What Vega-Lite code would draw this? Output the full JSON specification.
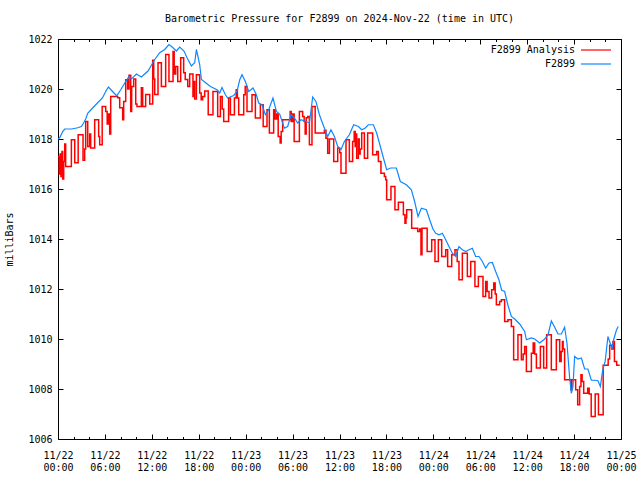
{
  "$schema": "https://vega.github.io/schema/vega-lite/v6.json",
  "width": 563,
  "height": 400,
  "autosize": {"type": "none"},
  "padding": {"left": 58, "top": 39, "right": 19, "bottom": 41},
  "title": {"text": "Barometric Pressure for F2899 on 2024-Nov-22 (time in UTC)", "fontSize": 10, "fontWeight": "normal", "font": "DejaVu Sans Mono", "anchor": "middle", "offset": 10, "color": "black"},
  "datasets": {
    "analysis": [
      {"hour":0.00,"mb":1017.3},{"hour":0.15,"mb":1016.6},{"hour":0.28,"mb":1017.4},{"hour":0.38,"mb":1016.5},{"hour":0.51,"mb":1017.5},{"hour":0.60,"mb":1016.4},{"hour":0.73,"mb":1017.1},{"hour":0.86,"mb":1017.8},{"hour":0.98,"mb":1016.9},{"hour":1.71,"mb":1017.97},{"hour":2.14,"mb":1017.05},{"hour":2.58,"mb":1018.17},{"hour":3.20,"mb":1017.15},{"hour":3.41,"mb":1017.6},{"hour":3.54,"mb":1018.7},{"hour":3.80,"mb":1017.7},{"hour":4.05,"mb":1018.2},{"hour":4.18,"mb":1017.64},{"hour":4.69,"mb":1018.77},{"hour":5.20,"mb":1018.1},{"hour":5.33,"mb":1017.77},{"hour":5.65,"mb":1019.3},{"hour":6.10,"mb":1019.1},{"hour":6.29,"mb":1018.6},{"hour":6.48,"mb":1019.0},{"hour":6.61,"mb":1018.2},{"hour":6.74,"mb":1019.7},{"hour":7.63,"mb":1019.65},{"hour":7.89,"mb":1019.25},{"hour":8.27,"mb":1018.77},{"hour":8.40,"mb":1019.5},{"hour":8.66,"mb":1020.37},{"hour":8.91,"mb":1020.0},{"hour":9.08,"mb":1020.55},{"hour":9.30,"mb":1019.1},{"hour":9.42,"mb":1020.1},{"hour":9.68,"mb":1020.4},{"hour":9.94,"mb":1019.4},{"hour":10.10,"mb":1019.3},{"hour":10.66,"mb":1020.05},{"hour":10.83,"mb":1019.3},{"hour":11.21,"mb":1019.78},{"hour":11.73,"mb":1019.4},{"hour":12.11,"mb":1021.15},{"hour":12.24,"mb":1020.4},{"hour":12.37,"mb":1019.78},{"hour":12.79,"mb":1021.05},{"hour":13.22,"mb":1020.1},{"hour":13.77,"mb":1021.38},{"hour":14.19,"mb":1020.3},{"hour":14.71,"mb":1021.5},{"hour":14.86,"mb":1020.6},{"hour":15.05,"mb":1020.9},{"hour":15.31,"mb":1020.3},{"hour":15.69,"mb":1021.25},{"hour":16.07,"mb":1020.65},{"hour":16.27,"mb":1020.38},{"hour":16.59,"mb":1020.1},{"hour":16.84,"mb":1020.6},{"hour":17.26,"mb":1019.7},{"hour":17.35,"mb":1020.3},{"hour":17.48,"mb":1019.6},{"hour":17.70,"mb":1020.57},{"hour":18.12,"mb":1019.84},{"hour":18.31,"mb":1019.57},{"hour":18.50,"mb":1019.7},{"hour":18.76,"mb":1019.92},{"hour":19.21,"mb":1018.97},{"hour":19.82,"mb":1019.9},{"hour":20.42,"mb":1018.9},{"hour":20.77,"mb":1019.7},{"hour":21.00,"mb":1019.2},{"hour":21.19,"mb":1018.7},{"hour":21.82,"mb":1019.64},{"hour":22.05,"mb":1018.97},{"hour":22.56,"mb":1019.64},{"hour":22.79,"mb":1019.97},{"hour":22.94,"mb":1019.64},{"hour":23.11,"mb":1018.97},{"hour":23.75,"mb":1019.77},{"hour":23.94,"mb":1020.1},{"hour":24.17,"mb":1019.1},{"hour":24.81,"mb":1019.77},{"hour":25.24,"mb":1018.84},{"hour":25.88,"mb":1019.37},{"hour":26.24,"mb":1018.5},{"hour":26.73,"mb":1019.17},{"hour":27.03,"mb":1018.24},{"hour":27.58,"mb":1019.17},{"hour":27.77,"mb":1018.8},{"hour":27.97,"mb":1019.0},{"hour":28.16,"mb":1018.1},{"hour":28.41,"mb":1017.84},{"hour":28.54,"mb":1018.3},{"hour":28.73,"mb":1018.77},{"hour":29.69,"mb":1019.1},{"hour":29.82,"mb":1018.7},{"hour":30.01,"mb":1019.0},{"hour":30.20,"mb":1017.9},{"hour":30.87,"mb":1019.1},{"hour":31.29,"mb":1018.9},{"hour":31.48,"mb":1018.7},{"hour":31.61,"mb":1018.2},{"hour":31.74,"mb":1018.85},{"hour":31.94,"mb":1018.9},{"hour":32.15,"mb":1017.77},{"hour":32.48,"mb":1019.3},{"hour":32.89,"mb":1018.24},{"hour":34.07,"mb":1018.35},{"hour":34.27,"mb":1018.03},{"hour":34.49,"mb":1017.43},{"hour":34.71,"mb":1018.0},{"hour":35.26,"mb":1017.1},{"hour":35.77,"mb":1017.64},{"hour":36.03,"mb":1017.45},{"hour":36.19,"mb":1016.63},{"hour":36.83,"mb":1017.97},{"hour":37.26,"mb":1017.1},{"hour":37.68,"mb":1017.9},{"hour":37.88,"mb":1018.3},{"hour":38.01,"mb":1017.7},{"hour":38.13,"mb":1018.2},{"hour":38.20,"mb":1017.23},{"hour":38.41,"mb":1018.0},{"hour":38.52,"mb":1017.4},{"hour":38.64,"mb":1017.6},{"hour":38.84,"mb":1018.24},{"hour":39.18,"mb":1017.23},{"hour":39.60,"mb":1018.24},{"hour":40.24,"mb":1017.37},{"hour":40.75,"mb":1017.5},{"hour":40.97,"mb":1017.1},{"hour":41.30,"mb":1016.63},{"hour":41.74,"mb":1016.5},{"hour":41.91,"mb":1016.37},{"hour":42.03,"mb":1015.57},{"hour":42.58,"mb":1016.1},{"hour":43.09,"mb":1015.17},{"hour":43.53,"mb":1015.47},{"hour":44.17,"mb":1014.97},{"hour":44.37,"mb":1014.63},{"hour":44.50,"mb":1014.85},{"hour":44.59,"mb":1015.17},{"hour":45.23,"mb":1014.43},{"hour":46.00,"mb":1014.3},{"hour":46.25,"mb":1014.4},{"hour":46.42,"mb":1013.37},{"hour":46.55,"mb":1014.43},{"hour":47.21,"mb":1013.5},{"hour":47.79,"mb":1013.97},{"hour":48.21,"mb":1013.1},{"hour":48.64,"mb":1013.97},{"hour":49.07,"mb":1013.3},{"hour":49.58,"mb":1013.57},{"hour":49.83,"mb":1012.9},{"hour":50.35,"mb":1013.37},{"hour":50.77,"mb":1013.57},{"hour":51.05,"mb":1013.1},{"hour":51.28,"mb":1012.37},{"hour":51.71,"mb":1013.43},{"hour":52.35,"mb":1012.5},{"hour":52.78,"mb":1013.1},{"hour":53.32,"mb":1012.1},{"hour":53.76,"mb":1012.5},{"hour":54.35,"mb":1011.7},{"hour":54.69,"mb":1012.3},{"hour":54.88,"mb":1011.9},{"hour":55.12,"mb":1011.64},{"hour":55.46,"mb":1011.97},{"hour":55.72,"mb":1012.24},{"hour":55.91,"mb":1011.8},{"hour":56.06,"mb":1011.37},{"hour":56.48,"mb":1011.5},{"hour":56.70,"mb":1011.57},{"hour":57.12,"mb":1010.7},{"hour":57.54,"mb":1010.77},{"hour":57.98,"mb":1010.5},{"hour":58.27,"mb":1009.17},{"hour":58.82,"mb":1010.17},{"hour":59.26,"mb":1009.17},{"hour":59.49,"mb":1009.4},{"hour":59.68,"mb":1009.7},{"hour":59.90,"mb":1008.7},{"hour":60.54,"mb":1009.43},{"hour":60.77,"mb":1009.84},{"hour":60.96,"mb":1009.4},{"hour":61.18,"mb":1008.84},{"hour":61.69,"mb":1009.7},{"hour":62.11,"mb":1008.84},{"hour":62.49,"mb":1010.17},{"hour":63.09,"mb":1008.77},{"hour":63.73,"mb":1009.97},{"hour":64.16,"mb":1009.1},{"hour":64.35,"mb":1009.5},{"hour":64.51,"mb":1009.9},{"hour":64.60,"mb":1009.6},{"hour":64.79,"mb":1008.37},{"hour":65.60,"mb":1007.97},{"hour":65.73,"mb":1008.37},{"hour":66.20,"mb":1007.97},{"hour":66.46,"mb":1007.37},{"hour":66.71,"mb":1008.1},{"hour":66.88,"mb":1008.57},{"hour":67.03,"mb":1008.3},{"hour":67.23,"mb":1007.83},{"hour":67.74,"mb":1008.03},{"hour":67.93,"mb":1007.8},{"hour":68.19,"mb":1006.9},{"hour":68.70,"mb":1007.8},{"hour":69.12,"mb":1006.97},{"hour":69.72,"mb":1008.95},{"hour":70.36,"mb":1009.2},{"hour":70.55,"mb":1009.75},{"hour":70.81,"mb":1009.6},{"hour":70.97,"mb":1009.9},{"hour":71.16,"mb":1009.1},{"hour":71.45,"mb":1008.95},{"hour":71.84,"mb":1008.95}
    ],
    "observed": [
      {"hour":0.00,"mb":1018.0},{"hour":0.22,"mb":1018.05},{"hour":0.60,"mb":1018.3},{"hour":0.86,"mb":1018.4},{"hour":1.75,"mb":1018.4},{"hour":2.52,"mb":1018.45},{"hour":2.99,"mb":1018.5},{"hour":3.29,"mb":1018.65},{"hour":3.54,"mb":1018.8},{"hour":3.80,"mb":1019.03},{"hour":4.40,"mb":1019.23},{"hour":5.04,"mb":1019.44},{"hour":5.68,"mb":1019.64},{"hour":6.10,"mb":1019.9},{"hour":6.45,"mb":1020.08},{"hour":7.16,"mb":1019.84},{"hour":7.51,"mb":1019.73},{"hour":8.02,"mb":1019.97},{"hour":8.66,"mb":1020.3},{"hour":9.08,"mb":1020.5},{"hour":9.42,"mb":1020.41},{"hour":10.03,"mb":1020.6},{"hour":10.66,"mb":1020.48},{"hour":11.51,"mb":1020.72},{"hour":12.37,"mb":1021.18},{"hour":13.01,"mb":1021.45},{"hour":13.64,"mb":1021.58},{"hour":14.19,"mb":1021.78},{"hour":14.71,"mb":1021.65},{"hour":15.14,"mb":1021.52},{"hour":15.56,"mb":1021.68},{"hour":16.11,"mb":1021.52},{"hour":16.50,"mb":1021.25},{"hour":17.06,"mb":1020.92},{"hour":17.48,"mb":1021.05},{"hour":17.70,"mb":1021.58},{"hour":18.12,"mb":1020.98},{"hour":18.34,"mb":1020.38},{"hour":18.89,"mb":1020.25},{"hour":19.49,"mb":1020.1},{"hour":20.33,"mb":1019.97},{"hour":20.68,"mb":1019.84},{"hour":20.97,"mb":1020.06},{"hour":21.41,"mb":1019.77},{"hour":21.70,"mb":1019.64},{"hour":22.47,"mb":1019.74},{"hour":22.89,"mb":1019.9},{"hour":23.24,"mb":1020.37},{"hour":23.53,"mb":1020.57},{"hour":23.96,"mb":1020.3},{"hour":24.39,"mb":1019.9},{"hour":24.94,"mb":1020.04},{"hour":25.37,"mb":1019.77},{"hour":25.66,"mb":1019.44},{"hour":26.09,"mb":1019.37},{"hour":26.52,"mb":1018.97},{"hour":26.94,"mb":1019.17},{"hour":27.49,"mb":1019.64},{"hour":27.93,"mb":1019.1},{"hour":28.35,"mb":1019.0},{"hour":28.95,"mb":1018.43},{"hour":29.37,"mb":1018.5},{"hour":29.80,"mb":1018.97},{"hour":30.23,"mb":1018.84},{"hour":30.65,"mb":1018.64},{"hour":31.07,"mb":1018.77},{"hour":31.71,"mb":1018.7},{"hour":32.15,"mb":1018.64},{"hour":32.57,"mb":1019.68},{"hour":32.99,"mb":1019.5},{"hour":33.43,"mb":1018.97},{"hour":34.07,"mb":1018.43},{"hour":34.49,"mb":1018.1},{"hour":34.91,"mb":1018.37},{"hour":35.35,"mb":1018.1},{"hour":35.77,"mb":1017.7},{"hour":36.19,"mb":1017.57},{"hour":36.62,"mb":1017.9},{"hour":37.26,"mb":1018.17},{"hour":37.81,"mb":1018.57},{"hour":38.41,"mb":1018.5},{"hour":38.84,"mb":1018.37},{"hour":39.26,"mb":1018.43},{"hour":39.69,"mb":1018.57},{"hour":40.33,"mb":1018.57},{"hour":40.75,"mb":1018.24},{"hour":41.18,"mb":1017.75},{"hour":41.61,"mb":1017.25},{"hour":42.03,"mb":1016.77},{"hour":42.55,"mb":1016.84},{"hour":43.27,"mb":1016.84},{"hour":43.78,"mb":1016.3},{"hour":44.55,"mb":1016.17},{"hour":45.19,"mb":1015.97},{"hour":45.61,"mb":1015.5},{"hour":46.04,"mb":1014.9},{"hour":46.47,"mb":1015.23},{"hour":47.11,"mb":1015.17},{"hour":47.53,"mb":1014.77},{"hour":47.95,"mb":1014.4},{"hour":48.30,"mb":1014.23},{"hour":48.72,"mb":1014.17},{"hour":49.16,"mb":1014.23},{"hour":49.58,"mb":1013.97},{"hour":50.00,"mb":1013.7},{"hour":50.43,"mb":1013.43},{"hour":50.86,"mb":1013.3},{"hour":51.28,"mb":1013.7},{"hour":51.71,"mb":1013.57},{"hour":52.14,"mb":1013.5},{"hour":52.56,"mb":1013.57},{"hour":52.99,"mb":1013.63},{"hour":53.41,"mb":1013.3},{"hour":53.84,"mb":1013.3},{"hour":54.27,"mb":1013.1},{"hour":54.69,"mb":1012.84},{"hour":55.12,"mb":1013.04},{"hour":55.55,"mb":1013.06},{"hour":55.97,"mb":1012.7},{"hour":56.39,"mb":1012.37},{"hour":56.74,"mb":1011.95},{"hour":57.12,"mb":1011.9},{"hour":57.54,"mb":1011.35},{"hour":57.98,"mb":1010.9},{"hour":58.40,"mb":1010.8},{"hour":59.04,"mb":1010.6},{"hour":59.68,"mb":1010.3},{"hour":59.90,"mb":1009.97},{"hour":60.54,"mb":1010.04},{"hour":60.96,"mb":1010.0},{"hour":61.60,"mb":1009.84},{"hour":62.24,"mb":1010.0},{"hour":62.66,"mb":1010.15},{"hour":63.09,"mb":1010.72},{"hour":63.52,"mb":1010.47},{"hour":63.94,"mb":1010.2},{"hour":64.37,"mb":1010.2},{"hour":64.79,"mb":1010.47},{"hour":65.09,"mb":1009.84},{"hour":65.43,"mb":1008.45},{"hour":65.65,"mb":1007.83},{"hour":65.86,"mb":1008.1},{"hour":66.07,"mb":1009.3},{"hour":66.50,"mb":1009.2},{"hour":66.93,"mb":1009.24},{"hour":67.35,"mb":1008.8},{"hour":67.77,"mb":1008.8},{"hour":68.21,"mb":1008.35},{"hour":68.63,"mb":1008.35},{"hour":69.05,"mb":1008.33},{"hour":69.36,"mb":1008.1},{"hour":69.65,"mb":1008.75},{"hour":69.97,"mb":1009.1},{"hour":70.33,"mb":1010.1},{"hour":70.61,"mb":1009.84},{"hour":70.84,"mb":1009.6},{"hour":71.06,"mb":1009.97},{"hour":71.41,"mb":1010.35},{"hour":71.64,"mb":1010.5}
    ]
  },
  "layer": [
    {
      "data": {"name": "analysis"},
      "mark": {"type": "line", "interpolate": "step-after", "strokeWidth": 1.5},
      "encoding": {
        "x": {"field": "hour", "type": "quantitative",
          "scale": {"domain": [0, 72], "nice": false, "zero": false},
          "axis": {"orient": "bottom", "title": null, "values": [0,2,4,6,8,10,12,14,16,18,20,22,24,26,28,30,32,34,36,38,40,42,44,46,48,50,52,54,56,58,60,62,64,66,68,70,72],
            "tickSize": {"condition": {"test": "datum.value % 6 === 0", "value": -5}, "value": -2.5},
            "labelExpr": "datum.value % 6 === 0 ? ['11/' + (22 + floor(datum.value / 24)), (datum.value % 24 < 10 ? '0' : '') + (datum.value % 24) + ':00'] : ''",
            "labelPadding": 16, "labelLineHeight": 12, "labelFlush": false, "labelOverlap": false, "labelBound": false}},
        "y": {"field": "mb", "type": "quantitative",
          "scale": {"domain": [1006, 1022], "nice": false, "zero": false},
          "axis": {"orient": "left", "title": "milliBars", "values": [1006,1008,1010,1012,1014,1016,1018,1020,1022],
            "tickSize": -5, "labelPadding": 11, "labelFlush": false, "labelOverlap": false, "format": "d", "titlePadding": 13}},
        "color": {"datum": "F2899 Analysis", "type": "nominal",
          "scale": {"domain": ["F2899 Analysis", "F2899"], "range": ["#ff0000", "#0f87ff"]},
          "legend": {"title": null, "orient": "none", "legendX": 531, "legendY": 4, "symbolType": "M-2.5,0H2.5", "symbolSize": 144, "symbolStrokeWidth": 1.2, "labelAlign": "right", "labelOffset": -28, "rowPadding": 2, "padding": 0, "labelFontSize": 10, "labelFont": "DejaVu Sans Mono", "labelColor": "black", "labelLimit": 300}}
      }
    },
    {
      "data": {"name": "observed"},
      "mark": {"type": "line", "strokeWidth": 1.2},
      "encoding": {
        "x": {"field": "hour", "type": "quantitative",
          "axis": {"orient": "top", "title": null, "labels": false, "values": [0,2,4,6,8,10,12,14,16,18,20,22,24,26,28,30,32,34,36,38,40,42,44,46,48,50,52,54,56,58,60,62,64,66,68,70,72],
            "tickSize": {"condition": {"test": "datum.value % 6 === 0", "value": -5}, "value": -2.5}}},
        "y": {"field": "mb", "type": "quantitative",
          "axis": {"orient": "right", "title": null, "labels": false, "values": [1006,1008,1010,1012,1014,1016,1018,1020,1022], "tickSize": -5}},
        "color": {"datum": "F2899", "type": "nominal"}
      }
    }
  ],
  "resolve": {"axis": {"x": "independent", "y": "independent"}},
  "config": {
    "font": "DejaVu Sans Mono",
    "view": {"stroke": "black", "strokeWidth": 1},
    "axis": {"domain": false, "grid": false, "tickColor": "black", "tickWidth": 1, "labelColor": "black", "labelFontSize": 10, "labelFont": "DejaVu Sans Mono", "titleFont": "DejaVu Sans Mono", "titleFontSize": 10, "titleFontWeight": "normal", "titleColor": "black"}
  }
}
